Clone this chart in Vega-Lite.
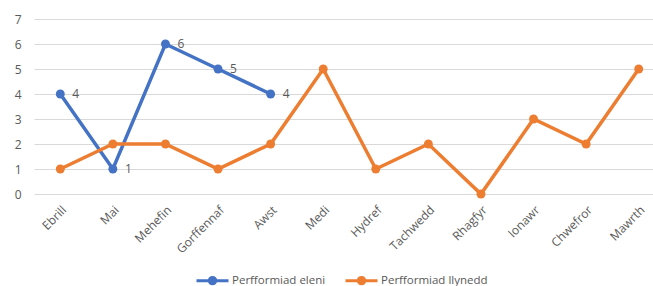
{
  "$schema": "https://vega.github.io/schema/vega-lite/v6.json",
  "autosize": {"type": "none"},
  "padding": {"left": 34, "top": 19, "right": 0, "bottom": 92},
  "width": 631,
  "height": 175,
  "background": "white",
  "config": {
    "view": {"stroke": null},
    "font": "Open Sans"
  },
  "data": {
    "values": [
      {"month": "Ebrill", "series": "Perfformiad eleni", "value": 4},
      {"month": "Mai", "series": "Perfformiad eleni", "value": 1},
      {"month": "Mehefin", "series": "Perfformiad eleni", "value": 6},
      {"month": "Gorffennaf", "series": "Perfformiad eleni", "value": 5},
      {"month": "Awst", "series": "Perfformiad eleni", "value": 4},
      {"month": "Ebrill", "series": "Perfformiad llynedd", "value": 1},
      {"month": "Mai", "series": "Perfformiad llynedd", "value": 2},
      {"month": "Mehefin", "series": "Perfformiad llynedd", "value": 2},
      {"month": "Gorffennaf", "series": "Perfformiad llynedd", "value": 1},
      {"month": "Awst", "series": "Perfformiad llynedd", "value": 2},
      {"month": "Medi", "series": "Perfformiad llynedd", "value": 5},
      {"month": "Hydref", "series": "Perfformiad llynedd", "value": 1},
      {"month": "Tachwedd", "series": "Perfformiad llynedd", "value": 2},
      {"month": "Rhagfyr", "series": "Perfformiad llynedd", "value": 0},
      {"month": "Ionawr", "series": "Perfformiad llynedd", "value": 3},
      {"month": "Chwefror", "series": "Perfformiad llynedd", "value": 2},
      {"month": "Mawrth", "series": "Perfformiad llynedd", "value": 5}
    ]
  },
  "encoding": {
    "x": {
      "field": "month",
      "type": "nominal",
      "sort": ["Ebrill", "Mai", "Mehefin", "Gorffennaf", "Awst", "Medi", "Hydref", "Tachwedd", "Rhagfyr", "Ionawr", "Chwefror", "Mawrth"],
      "scale": {"type": "point", "padding": 0.5},
      "axis": {
        "title": null,
        "labelAngle": -45,
        "labelFontSize": 12,
        "labelColor": "#595959",
        "labelPadding": 10,
        "labelOverlap": false,
        "ticks": false,
        "domain": false,
        "grid": false
      }
    },
    "y": {
      "field": "value",
      "type": "quantitative",
      "scale": {"domain": [0, 7], "nice": false},
      "axis": {
        "title": null,
        "values": [0, 1, 2, 3, 4, 5, 6, 7],
        "labelOverlap": false,
        "labelFlush": false,
        "labelFontSize": 12,
        "labelColor": "#595959",
        "labelPadding": 13,
        "ticks": false,
        "domain": false,
        "gridColor": "#d9d9d9",
        "gridWidth": 1
      }
    },
    "color": {
      "field": "series",
      "type": "nominal",
      "scale": {"domain": ["Perfformiad eleni", "Perfformiad llynedd"], "range": ["#4472C4", "#ED7D31"]},
      "legend": {
        "title": null,
        "orient": "none",
        "legendX": 161,
        "legendY": 244,
        "direction": "horizontal",
        "symbolType": "M-1,0H1M-0.2,0A0.2,0.2 0 1 1 0.2,0A0.2,0.2 0 1 1 -0.2,0Z",
        "symbolSize": 1024,
        "symbolStrokeWidth": 3,
        "labelFontSize": 11.5,
        "labelColor": "#595959",
        "labelOffset": 2,
        "columnPadding": 13
      }
    }
  },
  "layer": [
    {
      "mark": {"type": "line", "strokeWidth": 3.5, "point": {"filled": true, "size": 80}}
    },
    {
      "transform": [{"filter": "datum.series === 'Perfformiad eleni'"}],
      "mark": {"type": "text", "align": "left", "dx": 12, "fontSize": 12, "fill": "#595959"},
      "encoding": {
        "text": {"field": "value", "type": "quantitative"},
        "color": {"value": "#595959"}
      }
    }
  ]
}
